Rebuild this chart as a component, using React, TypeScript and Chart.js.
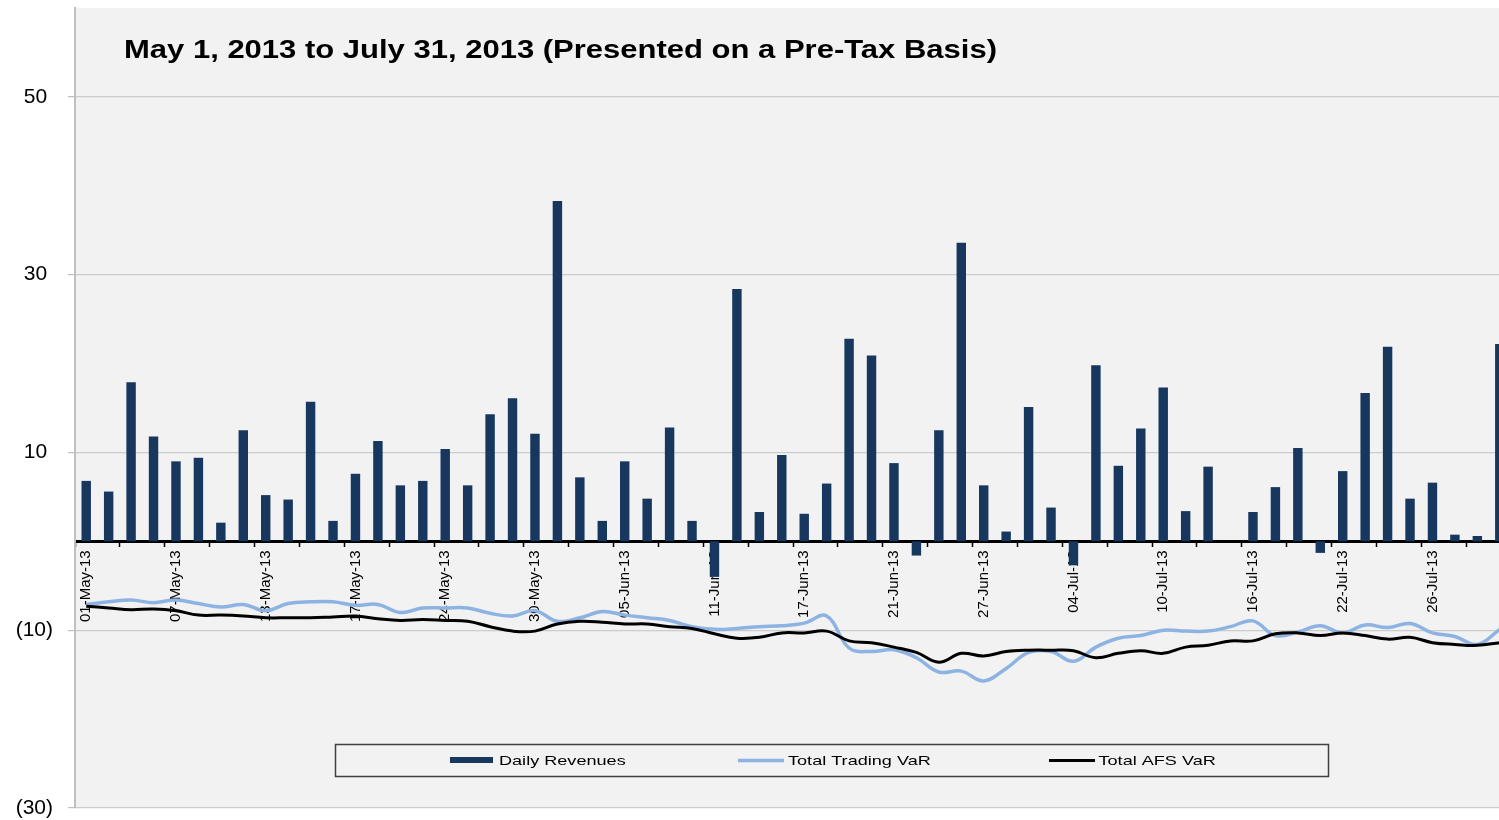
import React, { useEffect, useRef } from 'react';
import { Chart, registerables } from 'chart.js';

Chart.register(...registerables);

const TITLE = 'May 1, 2013 to July 31, 2013 (Presented on a Pre-Tax Basis)';

const dates = [
  '01-May-13', '02-May-13', '03-May-13', '06-May-13', '07-May-13', '08-May-13', '09-May-13', '10-May-13',
  '13-May-13', '14-May-13', '15-May-13', '16-May-13', '17-May-13', '20-May-13', '21-May-13', '22-May-13',
  '24-May-13', '27-May-13', '28-May-13', '29-May-13', '30-May-13', '31-May-13', '03-Jun-13', '04-Jun-13',
  '05-Jun-13', '06-Jun-13', '07-Jun-13', '10-Jun-13', '11-Jun-13', '12-Jun-13', '13-Jun-13', '14-Jun-13',
  '17-Jun-13', '18-Jun-13', '19-Jun-13', '20-Jun-13', '21-Jun-13', '24-Jun-13', '25-Jun-13', '26-Jun-13',
  '27-Jun-13', '28-Jun-13', '01-Jul-13', '02-Jul-13', '04-Jul-13', '05-Jul-13', '08-Jul-13', '09-Jul-13',
  '10-Jul-13', '11-Jul-13', '12-Jul-13', '15-Jul-13', '16-Jul-13', '17-Jul-13', '18-Jul-13', '19-Jul-13',
  '22-Jul-13', '23-Jul-13', '24-Jul-13', '25-Jul-13', '26-Jul-13', '29-Jul-13', '30-Jul-13', '31-Jul-13',
];

const dailyRevenues = [
  6.8, 5.6, 17.9, 11.8, 9.0, 9.4, 2.1, 12.5,
  5.2, 4.7, 15.7, 2.3, 7.6, 11.3, 6.3, 6.8,
  10.4, 6.3, 14.3, 16.1, 12.1, 38.3, 7.2, 2.3,
  9.0, 4.8, 12.8, 2.3, -4.0, 28.4, 3.3, 9.7,
  3.1, 6.5, 22.8, 20.9, 8.8, -1.6, 12.5, 33.6,
  6.3, 1.1, 15.1, 3.8, -2.7, 19.8, 8.5, 12.7,
  17.3, 3.4, 8.4, 0, 3.3, 6.1, 10.5, -1.3,
  7.9, 16.7, 21.9, 4.8, 6.6, 0.75, 0.6, 22.2,
];

const tradingVaR = [
  -7.1, -6.8, -6.6, -6.9, -6.6, -7.0, -7.4, -7.1,
  -7.8, -7.0, -6.8, -6.8, -7.2, -7.1, -8.0, -7.5,
  -7.5, -7.5, -8.1, -8.4, -7.8, -9.0, -8.6, -7.9,
  -8.3, -8.6, -8.9, -9.6, -9.9, -9.8, -9.6, -9.5,
  -9.2, -8.4, -12.0, -12.4, -12.2, -13.1, -14.7, -14.6,
  -15.7, -14.3, -12.5, -12.4, -13.5, -11.9, -10.9, -10.6,
  -10.0, -10.1, -10.1, -9.6, -8.95, -10.6, -10.2, -9.5,
  -10.3, -9.4, -9.7, -9.25, -10.3, -10.7, -11.6, -9.9,
];

const afsVaR = [
  -7.3, -7.5, -7.7, -7.6, -7.8, -8.3, -8.3, -8.4,
  -8.6, -8.6, -8.6, -8.5, -8.4, -8.7, -8.9, -8.8,
  -8.9, -9.0, -9.6, -10.1, -10.1, -9.3, -9.0, -9.1,
  -9.3, -9.3, -9.6, -9.8, -10.4, -10.9, -10.8, -10.3,
  -10.3, -10.1, -11.2, -11.4, -11.9, -12.5, -13.6, -12.6,
  -12.9, -12.4, -12.25, -12.25, -12.3, -13.1, -12.6, -12.3,
  -12.6, -11.9, -11.7, -11.2, -11.2, -10.4, -10.3, -10.6,
  -10.3, -10.6, -11.0, -10.8, -11.4, -11.6, -11.7, -11.4,
];

const yTicks = [-30, -10, 10, 30, 50];

const FONT = "'Liberation Sans', Arial, Helvetica, sans-serif";

const plotBgPlugin = {
  id: 'plotBg',
  beforeDraw(chart: any) {
    const { ctx, chartArea } = chart;
    ctx.save();
    ctx.fillStyle = '#f2f2f2';
    ctx.fillRect(chartArea.left, chartArea.top, chartArea.right - chartArea.left, chartArea.bottom - chartArea.top);
    ctx.restore();
  },
};

const overlayPlugin = {
  id: 'overlay',
  afterDraw(chart: any) {
    const ctx = chart.ctx as CanvasRenderingContext2D;
    ctx.save();
    ctx.font = `bold 25px ${FONT}`;
    ctx.fillStyle = '#000000';
    ctx.textAlign = 'left';
    ctx.textBaseline = 'alphabetic';
    const tw = ctx.measureText(TITLE).width;
    ctx.translate(124, 57.5);
    ctx.scale(873 / tw, 1);
    ctx.fillText(TITLE, 0, 0);
    ctx.restore();

    ctx.save();
    ctx.fillStyle = '#f2f2f2';
    ctx.fillRect(335, 744, 993, 32);
    ctx.strokeStyle = '#404040';
    ctx.lineWidth = 1.5;
    ctx.strokeRect(335.5, 744.5, 993, 32);
    const ds = chart.data.datasets;
    const items = [
      { sx: 450, tx: 499 },
      { sx: 738, tx: 788 },
      { sx: 1049, tx: 1098.5 },
    ];
    items.forEach((it, i) => {
      const d = ds[i];
      if (i === 0) {
        ctx.fillStyle = d.backgroundColor;
        ctx.fillRect(it.sx, 757, 43, 6);
      } else {
        ctx.strokeStyle = d.borderColor;
        ctx.lineWidth = d.borderWidth;
        ctx.beginPath();
        ctx.moveTo(it.sx, 760.5);
        ctx.lineTo(it.sx + 46, 760.5);
        ctx.stroke();
      }
      ctx.save();
      ctx.font = `13.5px ${FONT}`;
      ctx.fillStyle = '#000000';
      ctx.textAlign = 'left';
      ctx.textBaseline = 'alphabetic';
      ctx.translate(it.tx, 764.5);
      ctx.scale(1.34, 1);
      ctx.fillText(d.label, 0, 0);
      ctx.restore();
    });
    ctx.restore();
  },
};

export default function App() {
  const canvasRef = useRef<HTMLCanvasElement | null>(null);

  useEffect(() => {
    const canvas = canvasRef.current;
    if (!canvas) return;
    const chart = new Chart(canvas, {
      type: 'bar',
      data: {
        labels: dates,
        datasets: [
          {
            type: 'bar',
            label: 'Daily Revenues',
            data: dailyRevenues,
            backgroundColor: '#17375e',
            borderWidth: 0,
            barPercentage: 0.42,
            categoryPercentage: 1,
            order: 2,
          } as any,
          {
            type: 'line',
            label: 'Total Trading VaR',
            data: tradingVaR,
            borderColor: '#8db3e2',
            backgroundColor: '#8db3e2',
            borderWidth: 3.5,
            pointRadius: 0,
            tension: 0.4,
            fill: false,
            order: 1,
          } as any,
          {
            type: 'line',
            label: 'Total AFS VaR',
            data: afsVaR,
            borderColor: '#000000',
            backgroundColor: '#000000',
            borderWidth: 3,
            pointRadius: 0,
            tension: 0.4,
            fill: false,
            order: 0,
          } as any,
        ],
      },
      options: {
        responsive: false,
        animation: false,
        devicePixelRatio: 1,
        layout: { padding: { left: 0, top: 8, right: 0, bottom: 12 } },
        plugins: {
          legend: { display: false },
          title: { display: false },
          tooltip: { enabled: false },
        },
        scales: {
          x: {
            type: 'category',
            position: { y: 0 } as any,
            offset: true,
            afterFit: (scale: any) => {
              scale.paddingLeft = 0;
              scale.paddingRight = 0;
              scale.paddingTop = 0;
              scale.paddingBottom = 0;
            },
            grid: {
              display: true,
              drawOnChartArea: false,
              drawTicks: true,
              offset: true,
              tickLength: 4,
              tickWidth: 1.5,
              tickColor: (ctx: any) => (ctx.index % 2 === 0 ? '#000000' : 'rgba(0,0,0,0)'),
            },
            border: { display: true, color: '#000000', width: 3 },
            ticks: {
              autoSkip: false,
              maxRotation: 90,
              minRotation: 90,
              padding: 5,
              color: '#000000',
              font: { family: FONT, size: 15 },
              callback: (_v: any, i: number) => (i % 4 === 0 ? dates[i] : ''),
            },
          },
          y: {
            type: 'linear',
            position: 'left',
            min: -30,
            max: 60,
            afterBuildTicks: (scale: any) => {
              scale.ticks = yTicks.map((v) => ({ value: v }));
            },
            afterFit: (scale: any) => {
              scale.width = 75;
              scale.paddingTop = 0;
              scale.paddingBottom = 0;
            },
            grid: {
              color: '#cccccc',
              lineWidth: 1.2,
              tickLength: 7,
              tickColor: '#bfbfbf',
              drawTicks: true,
            },
            border: { display: true, color: '#bfbfbf', width: 2 },
            ticks: {
              padding: 15,
              color: '#000000',
              font: { family: FONT, size: 21 },
              callback: (v: any) => (v < 0 ? `(${-v})` : `${v} `),
            },
          },
        },
      } as any,
      plugins: [plotBgPlugin, overlayPlugin],
    });
    return () => chart.destroy();
  }, []);

  return (
    <div
      style={{
        position: 'fixed',
        left: 0,
        top: 0,
        width: 1499,
        height: 820,
        overflow: 'hidden',
        background: '#ffffff',
      }}
    >
      <canvas ref={canvasRef} width={1511} height={820} style={{ display: 'block' }} />
    </div>
  );
}
